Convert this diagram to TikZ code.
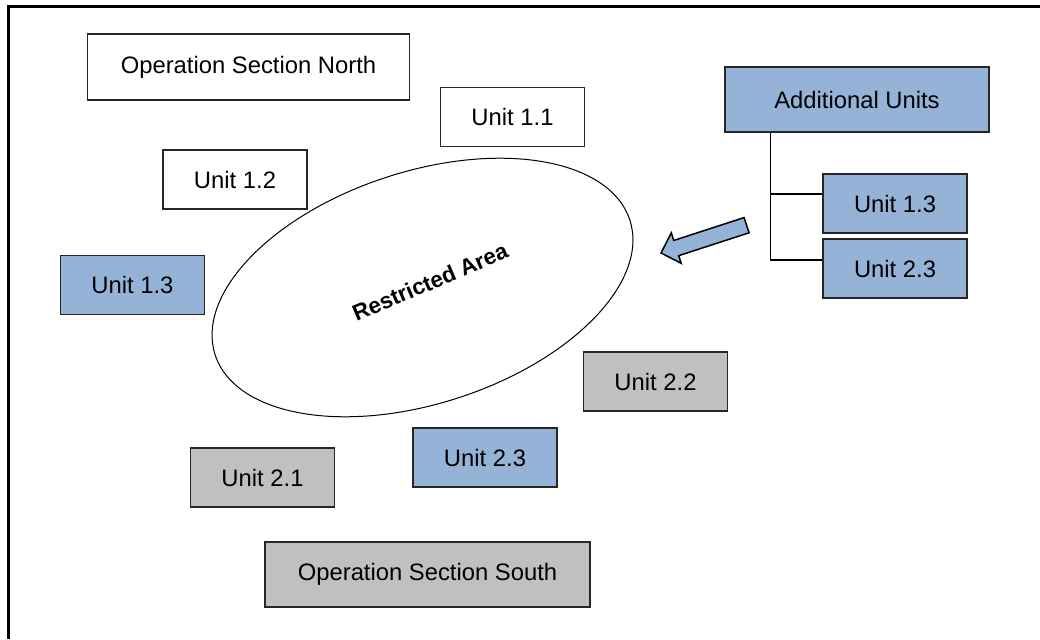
\documentclass[tikz,border=0pt]{standalone}
\usepackage{fontspec}
\setmainfont{Liberation Sans}
\usetikzlibrary{shapes.geometric}
\definecolor{unitblue}{HTML}{95B3D7}
\definecolor{unitgray}{HTML}{C0C0C0}
\tikzset{
  box/.style={draw=black!85, line width=1.5pt, inner sep=0pt,
    font=\fontsize{23.8}{28}\selectfont},
  unit/.style={box, minimum width=144pt, minimum height=59pt},
  section/.style={box, minimum width=322pt, minimum height=66pt},
  tree/.style={line width=1.2pt}
}
\begin{document}
\begin{tikzpicture}[x=1pt,y=-1pt]
  \useasboundingbox (0,0) rectangle (1040,639);
  \draw[line width=3pt] (8,639) -- (8,6.5) -- (1040,6.5);

  \node[ellipse, draw, line width=1pt, minimum width=436pt, minimum height=232pt,
    inner sep=0pt, rotate=18] (area) at (422.5,287.5) {};
  \node[font=\fontsize{22.5}{26}\selectfont\bfseries, rotate=23] (arealabel)
    at (430,282) {Restricted Area};

  \node[section] (osn) at (248.5,67) {Operation Section North};
  \node[unit] (u11) at (512.5,117) {Unit 1.1};
  \node[unit] (u12) at (235,179.5) {Unit 1.2};
  \node[unit, fill=unitblue] (u13) at (132.5,285) {Unit 1.3};
  \node[unit, fill=unitgray] (u22) at (655.5,381.5) {Unit 2.2};
  \node[unit, fill=unitblue] (u23) at (485,457.5) {Unit 2.3};
  \node[unit, fill=unitgray] (u21) at (262.5,477.5) {Unit 2.1};
  \node[section, fill=unitgray, minimum width=325pt, minimum height=65pt] (oss)
    at (427.5,574.5) {Operation Section South};

  % reserve units
  \node[box, fill=unitblue, minimum width=264pt, minimum height=65pt] (add)
    at (857,99.5) {Additional Units};
  \node[unit, fill=unitblue] (ua13) at (895,203.5) {Unit 1.3};
  \node[unit, fill=unitblue] (ua23) at (895,268.5) {Unit 2.3};
  \coordinate (trunk) at ([xshift=46pt]add.south west);
  \draw[tree] (trunk) |- ([yshift=9.5pt]ua13.west);
  \draw[tree] (trunk) |- ([yshift=8.5pt]ua23.west);

  \begin{scope}[shift={(661,253)}, rotate=18]
    \draw[fill=unitblue, line width=1.5pt, line join=miter]
      (0,0) -- (16,16) -- (16,8) -- (90,8) -- (90,-8) -- (16,-8) -- (16,-16) -- cycle;
  \end{scope}
\end{tikzpicture}
\end{document}
